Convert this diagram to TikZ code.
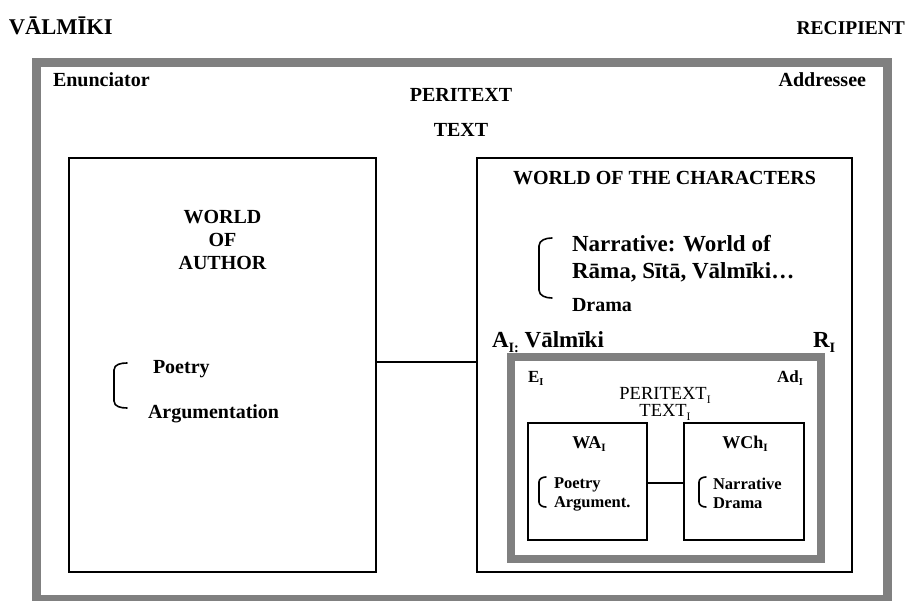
\documentclass[tikz,border=0pt]{standalone}
\usepackage{fontspec}
\setmainfont{Liberation Serif}
\usepackage{graphicx}
% lowered small index letter, as in E_I or TEXT_I
\newcommand\lowi[1]{\raisebox{-0.22em}{\scalebox{0.62}{#1}}}
\definecolor{framegray}{RGB}{128,128,128}
\begin{document}
\begin{tikzpicture}[x=1pt,y=-1pt,
  every node/.style={inner sep=0pt, outer sep=0pt},
  grayframe/.style={draw=framegray, line width=9pt},
  innerframe/.style={draw=framegray, line width=8pt},
  worldbox/.style={draw=black, line width=2.2pt},
  link/.style={draw=black, line width=2.2pt},
  brace/.style={draw=black, line width=1.6pt, line cap=round},
  tbig/.style={font=\bfseries\fontsize{22.5}{24}\selectfont},
  tmain/.style={font=\bfseries\fontsize{20}{23}\selectfont},
  tcorner/.style={font=\bfseries\fontsize{19.5}{23}\selectfont},
  tlarge/.style={font=\bfseries\fontsize{23}{27}\selectfont},
  tsmall/.style={font=\bfseries\fontsize{16.5}{19}\selectfont},
  tidx/.style={font=\bfseries\fontsize{17}{20}\selectfont},
  tinner/.style={font=\bfseries\fontsize{18}{21}\selectfont},
  treg/.style={font=\fontsize{18.5}{16}\selectfont}]
\useasboundingbox (0,0) rectangle (909,601);

% frames and boxes
\node[grayframe, minimum width=851, minimum height=536] (outer) at (461.5,331) {};
\node[worldbox, minimum width=307, minimum height=414] (author) at (222.5,365) {};
\node[worldbox, minimum width=375, minimum height=414] (chars) at (664.5,365) {};
\node[innerframe, minimum width=310, minimum height=202] (inner) at (666,458) {};
\node[worldbox, minimum width=119, minimum height=117] (wai) at (587.5,481.5) {};
\node[worldbox, minimum width=120, minimum height=117] (wchi) at (744,481.5) {};

% connectors
\draw[link] ([yshift=3pt]author.east) -- ([yshift=3pt]chars.west);
\draw[link] ([yshift=-1.5pt]wai.east) -- ([yshift=-1.5pt]wchi.west);

% outer labels
\node[tbig, anchor=base west] (valmiki) at (9,35) {VĀLMĪKI};
\node[tcorner, anchor=base east] (recipient) at (905,35) {RECIPIENT};
\node[tmain, anchor=base west] (enun) at (53,87) {Enunciator};
\node[tmain, anchor=base east] (addr) at (866,87) {Addressee};
\node[tmain, anchor=base] (peritext) at (461,101.5) {PERITEXT};
\node[tmain, anchor=base] (text) at (461,136.5) {TEXT};

% world of author
\node[tmain, align=center] (woa) at (222.5,240) {WORLD\\OF\\AUTHOR};
\draw[brace] (127,363) to[out=180,in=90] (114,370) -- (114,401) to[out=-90,in=180] (127,408);
\node[tmain, anchor=base west] (poetry) at (153,373) {Poetry};
\node[tmain, anchor=base west] (argum) at (148,418) {Argumentation};

% world of the characters
\node[tmain, anchor=base] (woc) at (664.5,184.5) {WORLD OF THE CHARACTERS};
\draw[brace] (552,238) to[out=180,in=90] (539,246) -- (539,290) to[out=-90,in=180] (552,298);
\node[tlarge, anchor=north west, align=left] (narr) at (572,235) {Narrative: World of\\Rāma, Sītā, Vālmīki…};
\node[tmain, anchor=base west] (drama) at (572,311) {Drama};
\node[tlarge, anchor=base west] (ai) at (492,347) {A\lowi{I:} Vālmīki};
\node[tlarge, anchor=base west] (ri) at (813,347) {R\lowi{I}};

% embedded communication
\node[tidx, anchor=base west] (ei) at (528,382) {E\lowi{I}};
\node[tidx, anchor=base east] (adi) at (803,382) {Ad\lowi{I}};
\node[treg, anchor=north, align=center] (peri) at (665,387) {PERITEXT\lowi{I}\\TEXT\lowi{I}};
\node[tinner, anchor=base] (wa) at (589,448) {WA\lowi{I}};
\node[tinner, anchor=base] (wch) at (745,448) {WCh\lowi{I}};
\draw[brace] (546,477) to[out=180,in=90] (539,482) -- (539,502) to[out=-90,in=180] (546,507);
\node[tsmall, anchor=north west, align=left] (pa) at (554,478) {Poetry\\Argument.};
\draw[brace] (706,477) to[out=180,in=90] (699,482) -- (699,502) to[out=-90,in=180] (706,507);
\node[tsmall, anchor=north west, align=left] (nd) at (713,478) {Narrative\\Drama};
\end{tikzpicture}
\end{document}
